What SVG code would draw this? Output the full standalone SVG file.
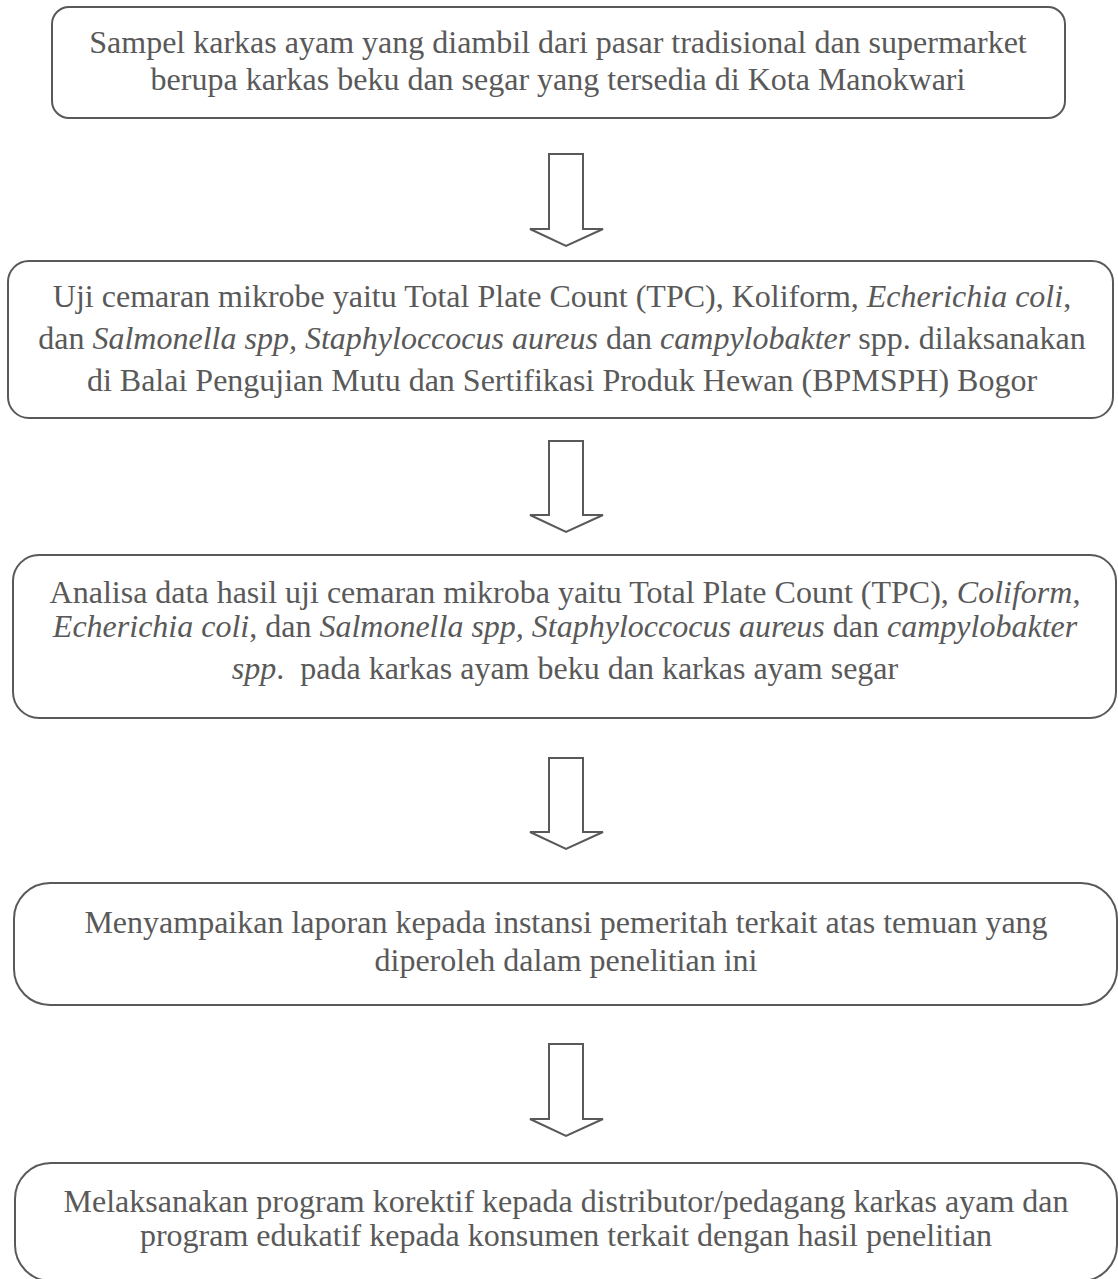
<svg xmlns="http://www.w3.org/2000/svg" width="1118" height="1279" viewBox="0 0 1118 1279">
<style>
.box{fill:#ffffff;stroke:#595959;stroke-width:2}
.arr{fill:#ffffff;stroke:#595959;stroke-width:2;stroke-linejoin:miter}
text{font-family:"Liberation Serif","Times New Roman",serif;font-size:32px;fill:#595959;text-anchor:middle;white-space:pre}
.i{font-style:italic}
</style>
<rect width="1118" height="1279" fill="#ffffff"/>
<g id="connectors">
<polygon class="arr" points="549,154 583,154 583,229 603,229 566,246 530,229 549,229"/>
<polygon class="arr" points="549,441 583,441 583,515 603,515 566,532 530,515 549,515"/>
<polygon class="arr" points="549,758 583,758 583,832 603,832 566,849 530,832 549,832"/>
<polygon class="arr" points="549,1044 583,1044 583,1119 603,1119 566,1136 530,1119 549,1119"/>
</g>
<g id="node1">
<rect class="box" x="52" y="7" width="1013" height="111" rx="17" ry="17"/>
<text x="558" y="53">Sampel karkas ayam yang diambil dari pasar tradisional dan supermarket</text>
<text x="558" y="90">berupa karkas beku dan segar yang tersedia di Kota Manokwari</text>
</g>
<g id="node2">
<rect class="box" x="8" y="261" width="1105" height="157" rx="21" ry="21"/>
<text x="562" y="307">Uji cemaran mikrobe yaitu Total Plate Count (TPC), Koliform, <tspan class="i">Echerichia coli</tspan>,</text>
<text x="562" y="349">dan <tspan class="i">Salmonella spp, Staphyloccocus aureus</tspan> dan <tspan class="i">campylobakter</tspan> spp. dilaksanakan</text>
<text x="562" y="391">di Balai Pengujian Mutu dan Sertifikasi Produk Hewan (BPMSPH) Bogor</text>
</g>
<g id="node3">
<rect class="box" x="13" y="555" width="1103" height="163" rx="26" ry="26"/>
<text x="565" y="603">Analisa data hasil uji cemaran mikroba yaitu Total Plate Count (TPC), <tspan class="i">Coliform</tspan>,</text>
<text x="565" y="637"><tspan class="i">Echerichia coli</tspan>, dan <tspan class="i">Salmonella spp, Staphyloccocus aureus</tspan> dan <tspan class="i">campylobakter</tspan></text>
<text x="565" y="679"><tspan class="i">spp</tspan>.  pada karkas ayam beku dan karkas ayam segar</text>
</g>
<g id="node4">
<rect class="box" x="14" y="883" width="1103" height="122" rx="36" ry="36"/>
<text x="566" y="933">Menyampaikan laporan kepada instansi pemeritah terkait atas temuan yang</text>
<text x="566" y="971">diperoleh dalam penelitian ini</text>
</g>
<g id="node5">
<rect class="box" x="15" y="1163" width="1102" height="118" rx="36" ry="36"/>
<text x="566" y="1212">Melaksanakan program korektif kepada distributor/pedagang karkas ayam dan</text>
<text x="566" y="1246">program edukatif kepada konsumen terkait dengan hasil penelitian</text>
</g>
</svg>
